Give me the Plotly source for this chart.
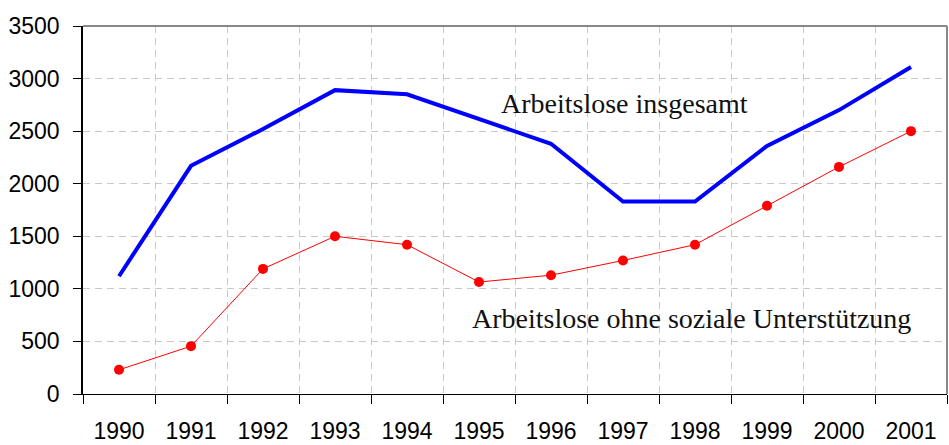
import plotly.graph_objects as go

years = ["1990", "1991", "1992", "1993", "1994", "1995", "1996", "1997", "1998", "1999", "2000", "2001"]
insgesamt = [1120, 2170, 2520, 2890, 2850, 2620, 2380, 1830, 1830, 2360, 2700, 3110]
ohne_unterstuetzung = [230, 455, 1190, 1500, 1420, 1065, 1130, 1270, 1420, 1790, 2160, 2500]
label_insgesamt = "Arbeitslose insgesamt"
label_ohne = "Arbeitslose ohne soziale Unterstützung"

fig = go.Figure()
fig.add_trace(go.Scatter(x=years, y=insgesamt, mode="lines",
                         line=dict(color="#0000FF", width=4), name=label_insgesamt))
fig.add_trace(go.Scatter(x=years, y=ohne_unterstuetzung, mode="lines+markers",
                         line=dict(color="#FF0000", width=1),
                         marker=dict(color="#FF0000", size=10), name=label_ohne))

fig.update_layout(
    width=949, height=445,
    margin=dict(l=83, r=2, t=26, b=51),
    paper_bgcolor="white", plot_bgcolor="white",
    showlegend=False,
    font=dict(family="Liberation Sans, Arial", size=23, color="black"),
    annotations=[
        dict(text=label_insgesamt, xref="paper", yref="paper", x=0.482, y=0.79,
             xanchor="left", yanchor="middle", showarrow=False,
             font=dict(family="Liberation Serif, Times New Roman", size=28, color="#111")),
        dict(text=label_ohne, xref="paper", yref="paper", x=0.448, y=0.206,
             xanchor="left", yanchor="middle", showarrow=False,
             font=dict(family="Liberation Serif, Times New Roman", size=28, color="#111")),
    ],
    shapes=[
        dict(type="line", xref="paper", yref="paper", x0=0, x1=1, y0=1, y1=1,
             line=dict(color="#888888", width=2)),
        dict(type="line", xref="paper", yref="paper", x0=1, x1=1, y0=0, y1=1,
             line=dict(color="#888888", width=2)),
    ],
)
fig.update_xaxes(type="category", range=[-0.5, 11.5], tickson="boundaries", automargin=False,
                 showgrid=True, gridcolor="#c8c8c8", griddash="7px,5px", gridwidth=1,
                 showline=True, linecolor="black", linewidth=1,
                 ticks="outside", ticklen=9, tickcolor="black", ticklabelstandoff=16,
                 tickfont=dict(size=23))
fig.update_yaxes(range=[0, 3500], dtick=500, tick0=0, automargin=False,
                 showgrid=True, gridcolor="#c8c8c8", griddash="7px,5px", gridwidth=1,
                 zeroline=False, showline=True, linecolor="black", linewidth=1.5,
                 ticks="outside", ticklen=8, tickcolor="black", ticklabelstandoff=9,
                 tickfont=dict(size=23))

fig.write_html("out.html", config={"displayModeBar": False},
               post_script="document.body.style.margin='0';document.body.style.overflow='hidden';")
